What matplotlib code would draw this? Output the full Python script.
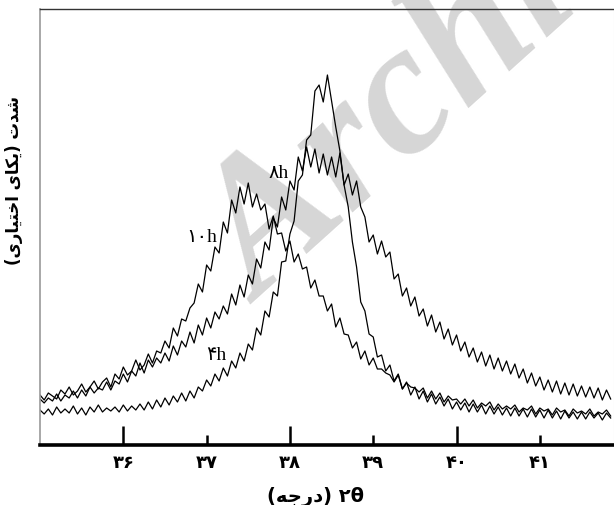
import numpy as np
import matplotlib
matplotlib.use("Agg")
import matplotlib.pyplot as plt

# 2theta scan grid (degrees) and intensities (arbitrary units)
two_theta = np.round(np.arange(35.0, 41.86, 0.05), 2)

i_10h = [50, 45, 52, 49, 46, 55, 51, 58, 50, 54,
         61, 53, 58, 64, 56, 63, 67, 58, 71, 66,
         78, 70, 74, 85, 75, 80, 91, 82, 94, 92,
         104, 97, 117, 109, 126, 124, 137, 142, 161, 153,
         180, 174, 198, 192, 223, 212, 245, 232, 258, 241,
         262, 238, 251, 235, 241, 216, 229, 211, 212, 194,
         204, 183, 191, 176, 178, 157, 165, 149, 149, 134,
         141, 118, 127, 111, 110, 97, 103, 86, 94, 80,
         87, 76, 76, 72, 70, 63, 70, 56, 62, 58,
         57, 53, 57, 47, 54, 46, 52, 43, 49, 45,
         46, 41, 46, 39, 45, 37, 42, 39, 43, 35,
         41, 36, 39, 36, 40, 33, 37, 35, 39, 31,
         37, 34, 36, 30, 37, 33, 35, 29, 36, 32,
         34, 31, 36, 29, 33, 31, 35, 29]

i_8h = [46, 42, 47, 44, 51, 44, 50, 47, 54, 47,
        55, 49, 58, 52, 57, 55, 63, 55, 64, 61,
        71, 63, 74, 69, 82, 72, 85, 78, 87, 82,
        92, 84, 99, 90, 104, 98, 113, 102, 120, 110,
        127, 117, 133, 126, 139, 131, 151, 140, 160, 148,
        170, 161, 186, 177, 203, 195, 227, 218, 248, 235,
        264, 255, 288, 274, 298, 278, 296, 272, 291, 270,
        288, 268, 292, 260, 271, 250, 264, 238, 228, 203,
        210, 191, 204, 188, 193, 166, 171, 149, 157, 139,
        148, 129, 136, 119, 130, 113, 123, 106, 116, 100,
        110, 94, 103, 88, 97, 83, 93, 79, 90, 76,
        87, 74, 84, 71, 81, 67, 76, 62, 72, 59,
        68, 55, 65, 53, 64, 51, 62, 50, 61, 49,
        59, 48, 58, 47, 57, 45, 55, 46]

i_4h = [35, 31, 36, 30, 38, 32, 36, 32, 39, 31,
        37, 30, 38, 33, 40, 33, 37, 34, 38, 33,
        40, 34, 39, 35, 41, 35, 43, 36, 45, 38,
        47, 40, 49, 43, 52, 44, 54, 47, 58, 54,
        65, 59, 71, 64, 77, 69, 84, 77, 92, 84,
        101, 95, 117, 110, 134, 128, 153, 149, 183, 184,
        211, 224, 264, 270, 305, 310, 354, 360, 343, 370,
        344, 318, 294, 260, 238, 203, 178, 143, 134, 111,
        108, 88, 90, 74, 80, 64, 71, 56, 63, 50,
        58, 46, 54, 43, 51, 41, 48, 39, 46, 36,
        43, 35, 42, 33, 41, 33, 40, 31, 39, 31,
        38, 30, 37, 29, 37, 29, 36, 28, 36, 28,
        35, 27, 35, 27, 34, 26, 34, 27, 33, 26,
        33, 26, 33, 27, 32, 25, 32, 27]

major_ticks = [36, 38, 40]
minor_ticks = [37, 39, 41]
major_labels = ["۳۶", "۳۸", "۴۰"]
minor_labels = ["۳۷", "۳۹", "۴۱"]

# Persian text in visual order with presentation forms (matplotlib does no shaping)
ylabel_txt = "(\uFBFC\uFEAD\uFE8E\uFBFF\uFE98\uFEA7\uFE8D \uFBFC\uFE8E\uFB91\uFBFE) \uFE95\uFEAA\uFEB7"
xlabel_txt = "(\uFEEA\uFE9F\uFEAD\uFEA9) ۲θ"

fig = plt.figure(figsize=(6.14, 5.06), dpi=100)
ax = fig.add_axes([40 / 614, 60 / 506, 574 / 614, 436 / 506])

# watermark
ax.text(37.64, 141, "Archive", rotation=42, rotation_mode="anchor",
        ha="left", va="baseline", fontsize=135, color="#d6d6d6",
        family="Liberation Serif", fontweight="bold", style="italic", zorder=0.5)

for series in [i_10h, i_8h, i_4h]:
    ax.plot(two_theta, series, color="black", lw=0.9, zorder=2)

serif = ["Liberation Serif", "DejaVu Sans"]
ax.text(36.94, 208, "۱۰h", ha="center", va="center", fontsize=14, family=serif)
ax.text(37.86, 273, "۸h", ha="center", va="center", fontsize=14, family=serif)
ax.text(37.12, 91, "۴h", ha="center", va="center", fontsize=14, family=serif)

ax.set_xlim(35.0, 41.89)
ax.set_ylim(0, 436)
ax.set_yticks([])

ax.set_xticks(major_ticks)
ax.set_xticklabels(major_labels, fontsize=13, fontweight="bold", family="DejaVu Sans")
ax.set_xticks(minor_ticks, minor=True)
ax.set_xticklabels(minor_labels, minor=True, fontsize=13, fontweight="bold", family="DejaVu Sans")
ax.tick_params(axis="x", which="major", direction="in", length=14, width=1.8, pad=6)
ax.tick_params(axis="x", which="minor", direction="in", length=7, width=1.8, pad=6)

ax.spines["bottom"].set_linewidth(2.6)
ax.spines["top"].set_color("#333333")
ax.spines["top"].set_linewidth(1.0)
ax.spines["left"].set_color("#999999")
ax.spines["left"].set_linewidth(1.2)
ax.spines["right"].set_color("#e0e0e0")

ax.set_xlabel(xlabel_txt, fontsize=14, fontweight="bold", family="DejaVu Sans")
ax.xaxis.set_label_coords(0.48, -0.095)
ax.set_ylabel(ylabel_txt, fontsize=12, fontweight="bold", family="DejaVu Sans")
ax.yaxis.set_label_coords(-0.03, 0.61)

fig.savefig("out.png", dpi=100)
